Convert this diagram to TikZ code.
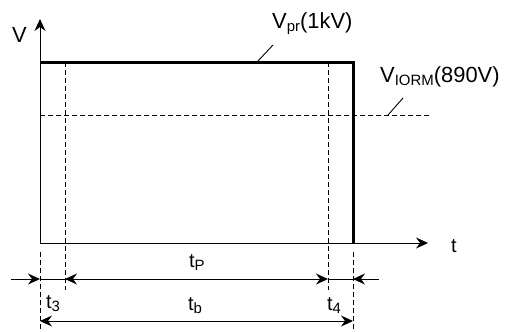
\documentclass[tikz,border=0pt]{standalone}
\usepackage{fontspec}
\setmainfont{Liberation Sans}
\usetikzlibrary{arrows.meta}
\newcommand{\mysub}[1]{\raisebox{-3bp}{\fontsize{15}{15}\selectfont #1}}
\begin{document}
\begin{tikzpicture}[x=1bp,y=-1bp,
  >={Stealth[length=12bp,width=11bp,inset=4bp]},
  thin line/.style={line width=0.9bp},
  dash line/.style={line width=0.9bp, dash pattern=on 5bp off 3bp},
  vlbl/.style={inner sep=0pt, anchor=base west, font=\fontsize{22}{24}\selectfont},
  tlbl/.style={inner sep=0pt, anchor=base west, font=\fontsize{20}{22}\selectfont}]
\useasboundingbox (0,0) rectangle (510,331);
% key points
\coordinate (O) at (40,243);
\coordinate (Ytop) at (40,19);
\coordinate (Xend) at (428,243);
\coordinate (P0) at (40,62);
\coordinate (P1) at (353,62);
\coordinate (P2) at (353,243);
\coordinate (I0) at (40,115);
\coordinate (I1) at (432,115);
% dashed verticals
\coordinate (d3a) at (65,62);
\coordinate (d3b) at (65,290);
\coordinate (d4a) at (328,62);
\coordinate (d4b) at (328,290);
\coordinate (d0a) at (40,252);
\coordinate (d0b) at (40,331);
\coordinate (d5a) at (353,252);
\coordinate (d5b) at (353,331);
% dimension rows
\coordinate (r1s) at (11,279);
\coordinate (r1a) at (40,279);
\coordinate (r1b) at (65,279);
\coordinate (r1c) at (328,279);
\coordinate (r1d) at (353,279);
\coordinate (r1e) at (379,279);
\coordinate (r2a) at (40,321);
\coordinate (r2b) at (353,321);
% leaders
\coordinate (L1a) at (273,45);
\coordinate (L1b) at (257,62);
\coordinate (L2a) at (403,98);
\coordinate (L2b) at (388,115);

% axes
\draw[thin line,->] (O) -- (Ytop);
\draw[thin line,->] (O) -- (Xend);
% dashed lines
\draw[dash line] (I0) -- (I1);
\draw[dash line] (d3a) -- (d3b);
\draw[dash line] (d4a) -- (d4b);
\draw[dash line] (d0a) -- (d0b);
\draw[dash line] (d5a) -- (d5b);
% pulse
\draw[line width=3bp, line join=miter] (P0) -- (P1) -- (P2);
% row 1
\draw[thin line,->] (r1s) -- (r1a);
\draw[thin line] (r1a) -- (r1b);
\draw[thin line,<->] (r1b) -- (r1c);
\draw[thin line] (r1c) -- (r1d);
\draw[thin line,<-] (r1d) -- (r1e);
% row 2
\draw[thin line,<->] (r2a) -- (r2b);
% leaders
\draw[thin line] (L1a) -- (L1b);
\draw[thin line] (L2a) -- (L2b);
% labels
\node[vlbl] (lV) at (12,42) {V};
\node[tlbl] (lt) at (451,252) {t};
\node[tlbl] (ltP) at (189,267) {t\mysub{P}};
\node[tlbl] (lt3) at (46,308) {t\mysub{3}};
\node[tlbl] (ltb) at (188,310) {t\mysub{b}};
\node[tlbl] (lt4) at (327,310) {t\mysub{4}};
\node[vlbl] (lVpr) at (272,28) {V\mysub{pr}(1kV)};
\node[vlbl] (lVI) at (380,82) {V\mysub{IORM}(890V)};
\end{tikzpicture}
\end{document}
